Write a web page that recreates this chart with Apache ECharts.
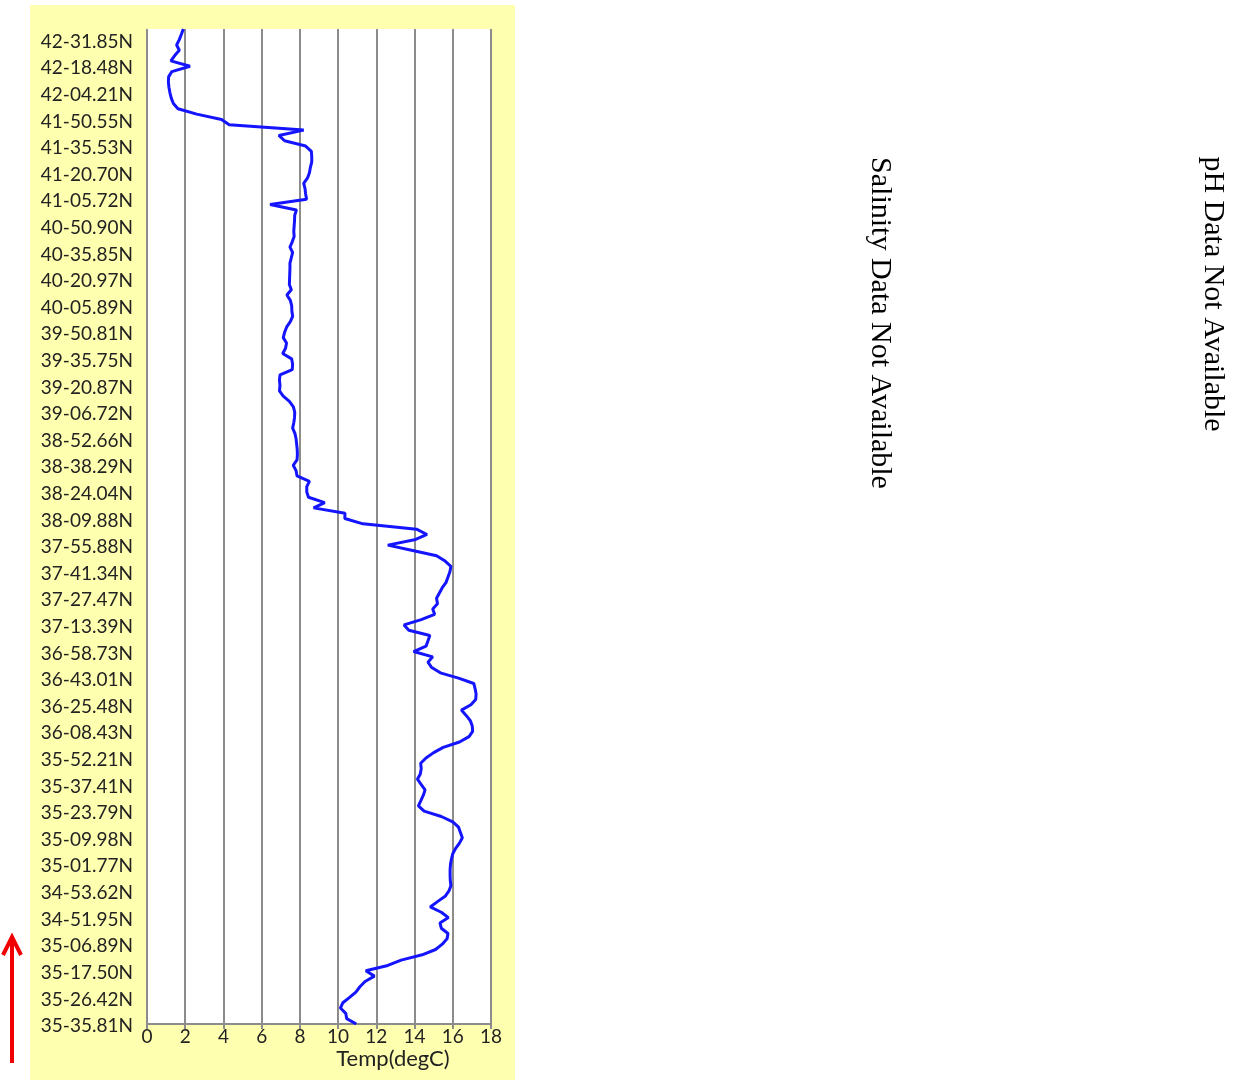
<!DOCTYPE html>
<html>
<head>
<meta charset="utf-8">
<script src="https://cdn.jsdelivr.net/npm/echarts@6/dist/echarts.min.js"></script>
<style>
html,body{margin:0;padding:0;background:#fff;}
#chart{width:1236px;height:1083px;}
</style>
</head>
<body>
<div id="chart"></div>
<script>
// Latitude tick labels, bottom (start of track) to top
const latLabels = [
 '35-35.81N','35-26.42N','35-17.50N','35-06.89N','34-51.95N','34-53.62N','35-01.77N','35-09.98N',
 '35-23.79N','35-37.41N','35-52.21N','36-08.43N','36-25.48N','36-43.01N','36-58.73N','37-13.39N',
 '37-27.47N','37-41.34N','37-55.88N','38-09.88N','38-24.04N','38-38.29N','38-52.66N','39-06.72N',
 '39-20.87N','39-35.75N','39-50.81N','40-05.89N','40-20.97N','40-35.85N','40-50.90N','41-05.72N',
 '41-20.70N','41-35.53N','41-50.55N','42-04.21N','42-18.48N','42-31.85N'
];
const samplesPerLabel = 5;
// Temperature samples along the track (sample 0 = bottom)
const temps = [
 10.95,10.45,10.40,10.12,10.25,10.60,10.93,11.14,11.41,11.90,
 11.45,12.60,13.30,14.40,15.10,15.45,15.70,15.75,15.40,15.33,
 15.77,15.40,14.82,15.20,15.60,15.80,15.90,15.87,15.86,15.86,
 15.88,15.93,16.00,16.15,16.35,16.50,16.40,16.30,16.00,15.40,
 14.50,14.20,14.33,14.46,14.55,14.35,14.15,14.30,14.35,14.32,
 14.60,15.00,15.50,16.35,16.85,17.04,17.02,16.92,16.70,16.45,
 16.95,17.20,17.22,17.17,17.10,16.30,15.35,14.90,14.70,14.95,
 13.95,14.60,14.70,14.80,13.70,13.45,14.35,15.05,14.95,15.20,
 15.15,15.30,15.45,15.65,15.75,15.85,15.90,15.60,15.15,13.90,
 12.60,14.00,14.65,14.10,11.30,10.35,10.36,8.72,9.30,8.45,
 8.36,8.36,8.50,7.85,7.80,7.65,7.85,7.87,7.86,7.83,
 7.80,7.74,7.62,7.68,7.72,7.73,7.66,7.45,7.13,6.93,
 6.96,6.93,6.96,7.60,7.62,7.57,7.10,7.25,7.30,7.13,
 7.20,7.31,7.50,7.62,7.58,7.57,7.50,7.32,7.55,7.45,
 7.46,7.47,7.48,7.48,7.55,7.62,7.48,7.60,7.70,7.68,
 7.70,7.72,7.73,7.82,6.44,8.35,8.30,8.27,8.20,8.40,
 8.50,8.55,8.62,8.62,8.60,8.30,7.20,6.90,8.20,4.30,
 3.90,2.60,1.62,1.38,1.27,1.20,1.15,1.12,1.13,1.30,
 2.25,1.25,1.45,1.69,1.55,1.69,1.80,1.90
];
const xTicks = {min: 0, max: 18, step: 2};
const axisTitle = 'Temp(degC)';
const noteSalinity = 'Salinity Data Not Available';
const notePH = 'pH Data Not Available';

const seriesData = temps.map((t, i) => [t, i]);
const chart = echarts.init(document.getElementById('chart'), null, {renderer: 'canvas'});
const labelFont = 'Lato, "Open Sans", sans-serif';
chart.setOption({
  animation: false,
  backgroundColor: '#ffffff',
  graphic: [
    {type: 'rect', z: -10, shape: {x: 30, y: 5, width: 485, height: 1075}, style: {fill: '#FFFFB0'}},
    {type: 'line', shape: {x1: 12, y1: 1063, x2: 12, y2: 938}, style: {stroke: '#f00000', lineWidth: 4}},
    {type: 'polyline', shape: {points: [[3, 955], [12, 937], [21, 955]]}, style: {stroke: '#f00000', lineWidth: 4, fill: null}},
    {type: 'text', x: 393, y: 1059, style: {text: axisTitle, font: '22px ' + labelFont, fill: '#222', align: 'center', verticalAlign: 'middle'}},
    {type: 'text', x: 880, y: 323, rotation: -Math.PI / 2, style: {text: noteSalinity, font: '30px "Liberation Serif", serif', fill: '#000', align: 'center', verticalAlign: 'middle'}},
    {type: 'text', x: 1213, y: 294, rotation: -Math.PI / 2, style: {text: notePH, font: '30px "Liberation Serif", serif', fill: '#000', align: 'center', verticalAlign: 'middle'}}
  ],
  grid: {left: 147, right: 745, top: 29, bottom: 59, show: true, backgroundColor: '#ffffff', borderWidth: 0},
  xAxis: {
    type: 'value', min: xTicks.min, max: xTicks.max, interval: xTicks.step,
    axisLine: {show: true, onZero: false, lineStyle: {color: '#8c8c8c', width: 2}},
    axisTick: {show: true, inside: false, length: 5, lineStyle: {color: '#8c8c8c', width: 2}},
    axisLabel: {color: '#222', fontSize: 19, fontFamily: labelFont, margin: 3},
    splitLine: {show: true, lineStyle: {color: '#8c8c8c', width: 2}}
  },
  yAxis: {
    type: 'value', min: 0, max: 187, interval: samplesPerLabel,
    axisLine: {show: false}, axisTick: {show: false}, splitLine: {show: false},
    axisLabel: {
      color: '#222', fontSize: 19, fontFamily: labelFont, margin: 14,
      showMaxLabel: false,
      rich: {lat: {fontSize: 19, fontFamily: labelFont, color: '#222', padding: [4, 0, 0, 0]}},
      formatter: v => (v % samplesPerLabel === 0 && latLabels[v / samplesPerLabel]) ? '{lat|' + latLabels[v / samplesPerLabel] + '}' : ''
    }
  },
  series: [{
    type: 'line', data: seriesData, showSymbol: false, symbol: 'none',
    lineStyle: {color: '#1414ff', width: 3}, smooth: false
  }]
});
</script>
</body>
</html>
